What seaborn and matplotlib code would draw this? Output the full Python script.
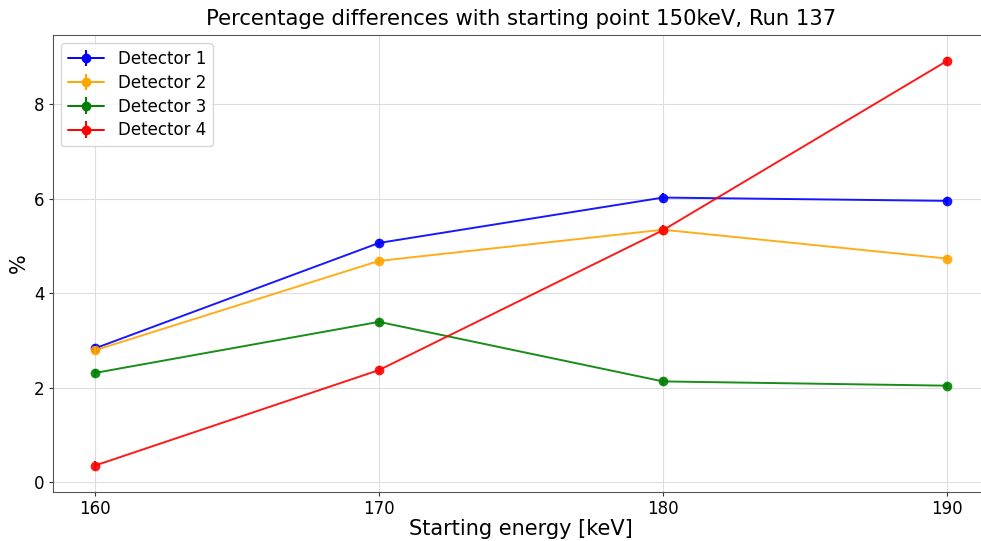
import matplotlib
matplotlib.use("Agg")
import matplotlib.pyplot as plt
import seaborn as sns
import pandas as pd

energies = [160, 170, 180, 190]
detectors = ["Detector 1", "Detector 2", "Detector 3", "Detector 4"]
det1 = [2.83, 5.06, 6.02, 5.95]
det2 = [2.79, 4.68, 5.34, 4.73]
det3 = [2.31, 3.39, 2.13, 2.04]
det4 = [0.35, 2.37, 5.33, 8.91]
err1 = [0.10, 0.09, 0.09, 0.08]
err2 = [0.08, 0.07, 0.09, 0.07]
err3 = [0.08, 0.09, 0.07, 0.06]
err4 = [0.09, 0.09, 0.10, 0.09]
colors = ["blue", "orange", "green", "red"]

rows = []
for name, vals, errs in zip(detectors, [det1, det2, det3, det4], [err1, err2, err3, err4]):
    for e, v, s in zip(energies, vals, errs):
        rows.append({"energy": e, "pct": v, "err": s, "detector": name})
df = pd.DataFrame(rows)

sns.set_style("ticks")
plt.rcParams["font.family"] = ["DejaVu Sans"]
plt.rcParams["text.color"] = "black"
plt.rcParams["axes.labelcolor"] = "black"
plt.rcParams["xtick.color"] = "black"
plt.rcParams["ytick.color"] = "black"

fig = plt.figure(figsize=(9.81, 5.41), dpi=100)
ax = fig.add_axes([52.5 / 981, 1 - 492 / 541, 937 / 981, (492 - 35) / 541])

# lines and markers per detector
sns.lineplot(data=df, x="energy", y="pct", hue="detector", palette=colors,
             marker="o", markersize=7, markeredgewidth=0, linewidth=1.4,
             errorbar=None, ax=ax, legend=False, alpha=0.9)

# vertical error bars on each point, plus legend entries in errorbar style
for name, c in zip(detectors, colors):
    sub = df[df["detector"] == name]
    ax.errorbar(sub["energy"], sub["pct"], yerr=sub["err"], fmt="none",
                ecolor=c, elinewidth=1.5)
    ax.errorbar([], [], yerr=[], fmt="o-", color=c, markersize=6,
                elinewidth=1.5, linewidth=1.4, label=name)

ax.legend(loc="upper left", fontsize=12, framealpha=0.8,
          borderaxespad=0.5, handlelength=2.2, labelspacing=0.35)

ax.set_xlim(158.5, 191.5)
ax.set_ylim(-0.21, 9.46)
ax.set_xticks(energies)
ax.set_yticks([0, 2, 4, 6, 8])
ax.tick_params(labelsize=12, length=3, pad=2.5, color="#333333")
ax.grid(True, color="#dddddd", linewidth=0.8)
ax.set_xlabel("Starting energy [keV]", fontsize=15, labelpad=1)
ax.set_ylabel("%", fontsize=15)
ax.set_title("Percentage differences with starting point 150keV, Run 137",
             fontsize=15.2, pad=7)
for s in ax.spines.values():
    s.set_color("#555555")
ax.spines["right"].set_visible(False)

fig.savefig("out.png", dpi=100)
